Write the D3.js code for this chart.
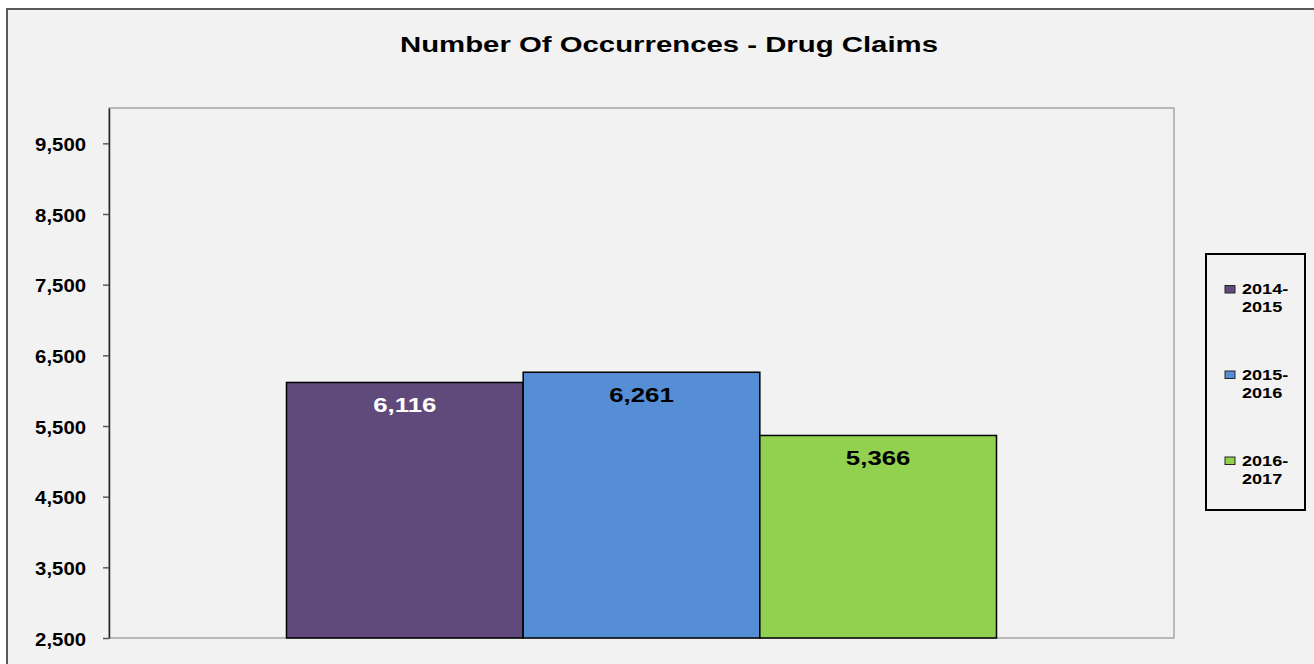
<!DOCTYPE html>
<html>
<head>
<meta charset="utf-8">
<script src="https://cdn.jsdelivr.net/npm/d3@7/dist/d3.min.js"></script>
<style>
  html, body { margin: 0; padding: 0; background: #ffffff; }
  svg { display: block; font-family: "Liberation Sans", Arial, sans-serif; }
</style>
</head>
<body>
<svg id="chart" width="1314" height="664"></svg>
<script>
// Fiscal-year drug claim counts
const seriesNames = ["2014-2015", "2015-2016", "2016-2017"];
const seriesValues = [6116, 6261, 5366];
const seriesColors = ["#604A7B", "#558ED5", "#92D050"];
const labelColors = ["#ffffff", "#000000", "#000000"];
const yTicks = [2500, 3500, 4500, 5500, 6500, 7500, 8500, 9500];
const yDomain = [2500, 10000];
const titleText = "Number Of Occurrences - Drug Claims";

const svg = d3.select("#chart");
const W = 1314, H = 664;
const STRETCH = 1.29; // wide lettering

// widen a text selection horizontally by a fixed factor
function widen(sel, factor) {
  sel.each(function () {
    const w = this.getComputedTextLength();
    d3.select(this).attr("textLength", w * factor).attr("lengthAdjust", "spacingAndGlyphs");
  });
}

// chart frame
svg.append("rect").attr("x", 0).attr("y", 0).attr("width", W).attr("height", H).attr("fill", "#ffffff");
svg.append("rect").attr("x", 7).attr("y", 9).attr("width", W + 10).attr("height", H + 10)
  .attr("fill", "#F2F2F2").attr("stroke", "#595959").attr("stroke-width", 2);

const plot = { left: 109, top: 108, right: 1174, bottom: 638 };

// plot area
svg.append("rect")
  .attr("x", plot.left).attr("y", plot.top)
  .attr("width", plot.right - plot.left).attr("height", plot.bottom - plot.top)
  .attr("fill", "#F2F2F2").attr("stroke", "#A6A6A6").attr("stroke-width", 1.5);

const y = d3.scaleLinear().domain(yDomain).range([plot.bottom, plot.top]);

// single category group occupying the middle two thirds
const groupWidth = (plot.right - plot.left) * 2 / 3;
const groupLeft = plot.left + ((plot.right - plot.left) - groupWidth) / 2;
const x = d3.scaleBand().domain(seriesNames).range([groupLeft, groupLeft + groupWidth]).padding(0);

// bars
svg.append("g").selectAll("rect")
  .data(seriesValues)
  .join("rect")
  .attr("x", (d, i) => x(seriesNames[i]))
  .attr("y", d => y(d))
  .attr("width", x.bandwidth())
  .attr("height", d => plot.bottom - y(d))
  .attr("fill", (d, i) => seriesColors[i])
  .attr("stroke", "#000000")
  .attr("stroke-width", 1.5);

// value labels
const valueLabels = svg.append("g").selectAll("text")
  .data(seriesValues)
  .join("text")
  .attr("x", (d, i) => x(seriesNames[i]) + x.bandwidth() / 2)
  .attr("y", d => y(d) + 30)
  .attr("text-anchor", "middle")
  .attr("font-size", 20)
  .attr("font-weight", "bold")
  .attr("fill", (d, i) => labelColors[i])
  .text(d => d3.format(",")(d));
widen(valueLabels, STRETCH);

// y axis
const yAxis = d3.axisLeft(y).tickValues(yTicks).tickFormat(d3.format(","))
  .tickSize(6).tickSizeOuter(0).tickPadding(17);
const gy = svg.append("g").attr("transform", `translate(${plot.left},0)`).call(yAxis);
gy.select(".domain").attr("stroke", "#262626").attr("stroke-width", 1.5);
gy.selectAll(".tick line").attr("stroke", "#595959").attr("stroke-width", 1.5);
const tickLabels = gy.selectAll(".tick text")
  .attr("font-size", 18).attr("font-weight", "bold").attr("fill", "#000000")
  .attr("dy", "0.4em")
  .attr("font-family", "'Liberation Sans', Arial, sans-serif");
widen(tickLabels, 1.13);

// title
const title = svg.append("text")
  .attr("x", 669).attr("y", 52)
  .attr("text-anchor", "middle")
  .attr("font-size", 22.5).attr("font-weight", "bold").attr("fill", "#000000")
  .text(titleText);
title.attr("textLength", 538).attr("lengthAdjust", "spacingAndGlyphs");

// legend
const legend = svg.append("g");
legend.append("rect").attr("x", 1206).attr("y", 254).attr("width", 99).attr("height", 256)
  .attr("fill", "#F2F2F2").attr("stroke", "#000000").attr("stroke-width", 2);

const entryY = [294, 379.5, 465.5];
const items = legend.selectAll("g.item").data(seriesNames).join("g").attr("class", "item")
  .attr("transform", (d, i) => `translate(1225,${entryY[i]})`);
items.append("rect").attr("x", 0).attr("y", -8.5).attr("width", 10).attr("height", 7.5)
  .attr("fill", (d, i) => seriesColors[i]).attr("stroke", "#262626").attr("stroke-width", 1);
const l1 = items.append("text").attr("x", 17).attr("y", 0)
  .attr("font-size", 14).attr("font-weight", "bold").attr("fill", "#000000")
  .text(d => d.split("-")[0] + "-");
const l2 = items.append("text").attr("x", 17).attr("y", 18)
  .attr("font-size", 14).attr("font-weight", "bold").attr("fill", "#000000")
  .text(d => d.split("-")[1]);
widen(l1, STRETCH);
widen(l2, STRETCH);
</script>
</body>
</html>
